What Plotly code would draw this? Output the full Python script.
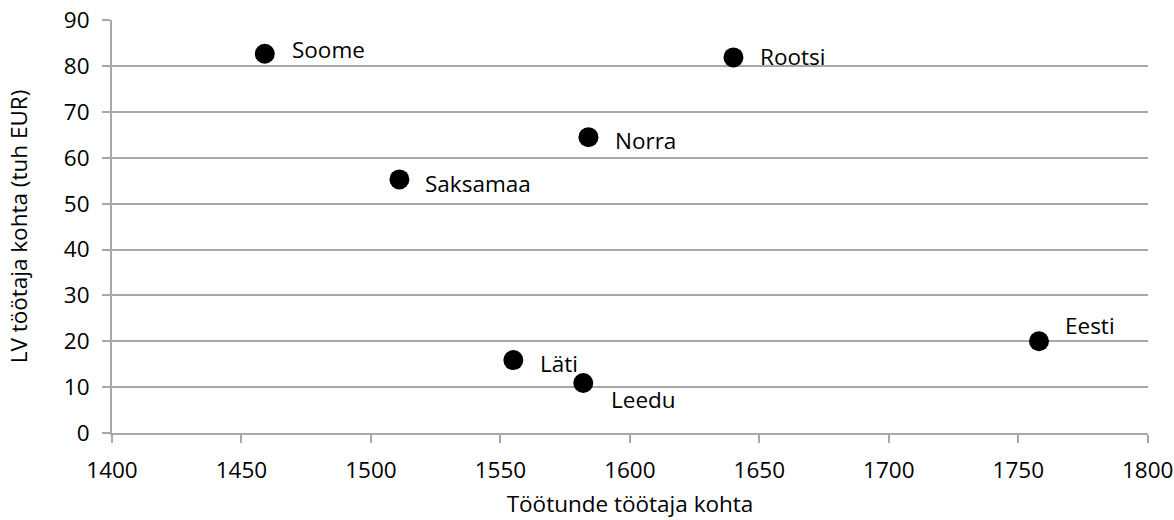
import plotly.graph_objects as go

countries = ["Soome", "Rootsi", "Norra", "Saksamaa", "Läti", "Leedu", "Eesti"]
hours = [1459, 1640, 1584, 1511, 1555, 1582, 1758]
value_added = [82.7, 81.9, 64.5, 55.3, 15.9, 10.9, 20.0]

x_title = "Töötunde töötaja kohta"
y_title = "LV töötaja kohta (tuh EUR)"
x_ticks = [1400, 1450, 1500, 1550, 1600, 1650, 1700, 1750, 1800]
y_ticks = [0, 10, 20, 30, 40, 50, 60, 70, 80, 90]

# label offsets in pixels (style)
label_shift = {
    "Soome": (25, 4), "Rootsi": (25, 1), "Norra": (25, -3), "Saksamaa": (24, -4),
    "Läti": (25, -3), "Leedu": (26, -16), "Eesti": (24, 16),
}

FONT = "Open Sans"
GRID = "#a8a8a8"
FS = 22.5

fig = go.Figure()
fig.add_trace(go.Scatter(
    x=hours, y=value_added, mode="markers",
    marker=dict(size=20, color="black", line=dict(width=0)),
    showlegend=False, hoverinfo="text", text=countries,
))

for c, xv, yv in zip(countries, hours, value_added):
    dx, dy = label_shift[c]
    fig.add_annotation(x=xv, y=yv, text=c, showarrow=False, xanchor="left", yanchor="middle",
                       xshift=dx, yshift=dy, font=dict(family=FONT, size=FS, color="black"))

fig.update_layout(
    width=1174, height=520,
    margin=dict(l=112, r=26, t=20, b=87, autoexpand=False),
    paper_bgcolor="white", plot_bgcolor="white",
    font=dict(family=FONT, size=FS, color="black"),
)
fig.update_xaxes(
    range=[1400, 1800.1], tickvals=x_ticks, ticktext=[str(t) for t in x_ticks],
    showgrid=False, zeroline=False, showline=True, linecolor=GRID, linewidth=2,
    ticks="outside", ticklen=8, tickcolor=GRID, tickwidth=2, automargin=False,
    ticklabelstandoff=8, ticklabeloverflow="allow",
    title=dict(text=x_title, standoff=12, font=dict(family=FONT, size=FS)),
)
fig.update_yaxes(
    range=[0, 90.05], tickvals=y_ticks, ticktext=[str(t) for t in y_ticks],
    showgrid=True, gridcolor=GRID, gridwidth=2, zeroline=False,
    showline=True, linecolor=GRID, linewidth=2,
    ticks="outside", ticklen=8, tickcolor=GRID, tickwidth=2, automargin=False,
    ticklabelstandoff=8, ticklabeloverflow="allow",
    title=dict(text=y_title, standoff=30, font=dict(family=FONT, size=FS)),
)

fig.write_html("out.html", config={"displayModeBar": False},
               post_script="document.body.style.margin='0';document.body.style.overflow='hidden';")
